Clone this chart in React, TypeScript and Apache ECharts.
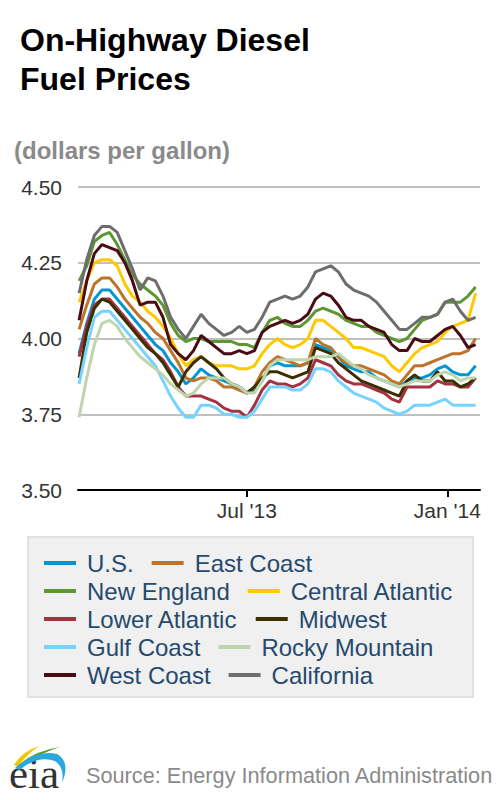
import React, { useEffect, useRef } from "react";
import * as echarts from "echarts";

// ---- data ----
const weekDates = [
  "2013-01-28",
  "2013-02-04", "2013-02-11", "2013-02-18", "2013-02-25",
  "2013-03-04", "2013-03-11", "2013-03-18", "2013-03-25",
  "2013-04-01", "2013-04-08", "2013-04-15", "2013-04-22", "2013-04-29",
  "2013-05-06", "2013-05-13", "2013-05-20", "2013-05-27",
  "2013-06-03", "2013-06-10", "2013-06-17", "2013-06-24",
  "2013-07-01", "2013-07-08", "2013-07-15", "2013-07-22", "2013-07-29",
  "2013-08-05", "2013-08-12", "2013-08-19", "2013-08-26",
  "2013-09-02", "2013-09-09", "2013-09-16", "2013-09-23", "2013-09-30",
  "2013-10-07", "2013-10-14", "2013-10-21", "2013-10-28",
  "2013-11-04", "2013-11-11", "2013-11-18", "2013-11-25",
  "2013-12-02", "2013-12-09", "2013-12-16", "2013-12-23", "2013-12-30",
  "2014-01-06", "2014-01-13", "2014-01-20", "2014-01-27",
];

const usPrices = [3.95, 4.05, 4.13, 4.16, 4.16, 4.13, 4.10, 4.07, 4.04, 4.01, 3.98, 3.96, 3.92, 3.89, 3.85, 3.87, 3.90, 3.88, 3.87, 3.86, 3.85, 3.84, 3.82, 3.83, 3.86, 3.91, 3.92, 3.91, 3.91, 3.91, 3.92, 3.98, 3.97, 3.96, 3.94, 3.91, 3.90, 3.89, 3.89, 3.87, 3.86, 3.85, 3.84, 3.86, 3.87, 3.87, 3.88, 3.90, 3.91, 3.89, 3.88, 3.88, 3.91];
const eastCoastPrices = [4.03, 4.11, 4.18, 4.20, 4.20, 4.17, 4.13, 4.10, 4.07, 4.05, 4.02, 4.00, 3.96, 3.92, 3.87, 3.86, 3.87, 3.87, 3.86, 3.84, 3.84, 3.83, 3.82, 3.84, 3.89, 3.92, 3.94, 3.93, 3.92, 3.91, 3.92, 4.00, 3.98, 3.97, 3.94, 3.92, 3.91, 3.91, 3.90, 3.89, 3.88, 3.86, 3.85, 3.88, 3.91, 3.91, 3.92, 3.93, 3.94, 3.95, 3.95, 3.96, 4.00];
const newEnglandPrices = [4.19, 4.24, 4.32, 4.34, 4.35, 4.31, 4.26, 4.21, 4.18, 4.16, 4.14, 4.11, 4.05, 4.01, 3.99, 4.00, 4.00, 3.99, 3.99, 3.99, 3.99, 3.98, 3.98, 3.97, 4.02, 4.06, 4.07, 4.05, 4.04, 4.04, 4.06, 4.09, 4.10, 4.09, 4.08, 4.06, 4.05, 4.04, 4.04, 4.02, 4.01, 4.00, 3.99, 4.00, 4.03, 4.06, 4.07, 4.08, 4.12, 4.12, 4.12, 4.14, 4.17];
const centralAtlanticPrices = [4.12, 4.19, 4.25, 4.26, 4.26, 4.24, 4.18, 4.14, 4.12, 4.09, 4.07, 4.04, 4.00, 3.95, 3.91, 3.93, 3.94, 3.92, 3.91, 3.91, 3.91, 3.90, 3.90, 3.91, 3.95, 3.98, 4.00, 3.98, 3.97, 3.98, 4.00, 4.06, 4.06, 4.04, 4.02, 4.00, 3.97, 3.97, 3.96, 3.95, 3.94, 3.91, 3.89, 3.92, 3.95, 3.97, 3.98, 3.99, 4.02, 4.04, 4.05, 4.06, 4.15];
const lowerAtlanticPrices = [3.94, 4.04, 4.11, 4.13, 4.13, 4.10, 4.07, 4.04, 4.01, 3.98, 3.95, 3.93, 3.89, 3.84, 3.81, 3.81, 3.81, 3.80, 3.79, 3.77, 3.76, 3.76, 3.74, 3.78, 3.83, 3.86, 3.85, 3.85, 3.84, 3.85, 3.87, 3.93, 3.92, 3.91, 3.88, 3.86, 3.85, 3.85, 3.84, 3.83, 3.82, 3.80, 3.79, 3.84, 3.84, 3.84, 3.84, 3.86, 3.85, 3.85, 3.84, 3.84, 3.87];
const midwestPrices = [3.87, 4.02, 4.10, 4.13, 4.12, 4.09, 4.06, 4.03, 4.00, 3.97, 3.95, 3.92, 3.88, 3.84, 3.89, 3.92, 3.94, 3.92, 3.90, 3.87, 3.85, 3.84, 3.82, 3.84, 3.87, 3.89, 3.89, 3.88, 3.87, 3.88, 3.89, 3.97, 3.96, 3.95, 3.92, 3.90, 3.88, 3.86, 3.85, 3.84, 3.83, 3.82, 3.81, 3.86, 3.88, 3.86, 3.86, 3.89, 3.86, 3.86, 3.84, 3.85, 3.87];
const gulfCoastPrices = [3.85, 3.97, 4.07, 4.09, 4.09, 4.06, 4.03, 4.00, 3.97, 3.94, 3.91, 3.86, 3.81, 3.77, 3.74, 3.74, 3.78, 3.78, 3.77, 3.75, 3.75, 3.74, 3.74, 3.76, 3.80, 3.84, 3.84, 3.84, 3.83, 3.83, 3.85, 3.90, 3.90, 3.89, 3.86, 3.84, 3.82, 3.81, 3.80, 3.79, 3.77, 3.76, 3.75, 3.76, 3.78, 3.78, 3.78, 3.79, 3.80, 3.78, 3.78, 3.78, 3.78];
const rockyMountainPrices = [3.74, 3.87, 3.98, 4.05, 4.06, 4.04, 4.00, 3.97, 3.94, 3.92, 3.90, 3.88, 3.85, 3.83, 3.81, 3.82, 3.85, 3.87, 3.87, 3.87, 3.85, 3.84, 3.82, 3.82, 3.86, 3.91, 3.93, 3.93, 3.93, 3.93, 3.93, 3.94, 3.94, 3.94, 3.95, 3.93, 3.91, 3.90, 3.88, 3.87, 3.86, 3.85, 3.84, 3.85, 3.86, 3.86, 3.86, 3.88, 3.89, 3.88, 3.86, 3.87, 3.87];
const westCoastPrices = [4.06, 4.19, 4.28, 4.31, 4.30, 4.29, 4.25, 4.19, 4.11, 4.12, 4.12, 4.07, 3.98, 3.95, 3.93, 3.96, 4.01, 3.99, 3.97, 3.95, 3.95, 3.96, 3.95, 3.96, 4.02, 4.04, 4.05, 4.06, 4.05, 4.06, 4.08, 4.13, 4.15, 4.14, 4.11, 4.07, 4.06, 4.06, 4.04, 4.03, 4.02, 3.98, 3.96, 3.96, 4.00, 3.99, 3.99, 4.01, 4.03, 4.04, 4.01, 3.97, 3.98];
const californiaPrices = [4.15, 4.26, 4.34, 4.37, 4.37, 4.35, 4.29, 4.23, 4.16, 4.20, 4.19, 4.14, 4.07, 4.03, 4.00, 4.04, 4.08, 4.05, 4.03, 4.01, 4.02, 4.04, 4.02, 4.03, 4.07, 4.12, 4.13, 4.14, 4.13, 4.14, 4.17, 4.22, 4.23, 4.24, 4.22, 4.18, 4.16, 4.15, 4.14, 4.12, 4.09, 4.06, 4.03, 4.03, 4.05, 4.07, 4.07, 4.08, 4.12, 4.13, 4.09, 4.06, 4.07];

const seriesNames = [
  "U.S.", "East Coast", "New England", "Central Atlantic", "Lower Atlantic",
  "Midwest", "Gulf Coast", "Rocky Mountain", "West Coast", "California",
];
const seriesValues = [
  usPrices, eastCoastPrices, newEnglandPrices, centralAtlanticPrices, lowerAtlanticPrices,
  midwestPrices, gulfCoastPrices, rockyMountainPrices, westCoastPrices, californiaPrices,
];
const seriesColors = [
  "#0096d6", "#bd732a", "#5d9732", "#ffc800", "#a33340",
  "#3b2f00", "#76d3ff", "#bfd5ad", "#4a0c14", "#6d6d6d",
];

const xTickDates = ["2013-07-01", "2014-01-01"];
const xTickLabels = ["Jul '13", "Jan '14"];
const xMinDate = "2013-01-27";
const xMaxDate = "2014-01-31";
const yMin = 3.5;
const yMax = 4.5;
const yStep = 0.25;

const FONT = '"Liberation Sans", Arial, Helvetica, sans-serif';

const logoYellow = "M14 765 Q21 752 39 746 Q26 755 18 767 Z";
const logoGreen = "M17 767 Q32 751 60 747 Q37 754 21 769 Z";
const logoBlue = "M15 768 Q36 749 57 754 Q71 762 62 783 Q65 768 55 761 Q38 755 19 770 Z";

try {
  echarts.graphic.registerShape("eiaYellow", echarts.graphic.extendPath(logoYellow, {}));
  echarts.graphic.registerShape("eiaGreen", echarts.graphic.extendPath(logoGreen, {}));
  echarts.graphic.registerShape("eiaBlue", echarts.graphic.extendPath(logoBlue, {}));
} catch (e) {
  // ignore
}

function toTime(s: string): number {
  const [y, m, d] = s.split("-").map(Number);
  return Date.UTC(y, m - 1, d);
}

export default function App() {
  const ref = useRef<HTMLDivElement>(null);

  useEffect(() => {
    document.body.style.margin = "0";
    if (!ref.current) return;
    const chart = echarts.init(ref.current, undefined, { renderer: "svg" });
    const tickTimes = xTickDates.map(toTime);

    const legendRows: string[][] = [];
    for (let i = 0; i < seriesNames.length; i += 2) {
      legendRows.push([seriesNames[i], seriesNames[i + 1]]);
    }

    const option: any = {
      animation: false,
      textStyle: { fontFamily: FONT },
      grid: { left: 78, right: 20, top: 187, bottom: 310 },
      xAxis: {
        type: "value",
        min: toTime(xMinDate),
        max: toTime(xMaxDate),
        axisLine: { show: true, lineStyle: { color: "#000", width: 2 } },
        axisTick: {
          show: true,
          length: 7,
          lineStyle: { color: "#000", width: 2 },
          customValues: tickTimes,
        },
        axisLabel: {
          customValues: tickTimes,
          fontSize: 21,
          color: "#333",
          fontFamily: FONT,
          margin: 10,
          formatter: (v: number) => {
            let best = 0;
            for (let i = 1; i < tickTimes.length; i++) {
              if (Math.abs(tickTimes[i] - v) < Math.abs(tickTimes[best] - v)) best = i;
            }
            return xTickLabels[best];
          },
        },
        splitLine: { show: false },
      },
      yAxis: {
        type: "value",
        min: yMin,
        max: yMax,
        interval: yStep,
        axisLine: { show: false },
        axisTick: { show: false },
        axisLabel: {
          fontSize: 21,
          color: "#333",
          fontFamily: FONT,
          margin: 16,
          formatter: (v: number) => v.toFixed(2),
        },
        splitLine: { lineStyle: { color: "#c0c0c0", width: 2 } },
      },
      legend: legendRows.map((row, r) => ({
        data: row,
        left: 39,
        top: 544 + r * 28,
        orient: "horizontal",
        icon: "rect",
        itemWidth: 32,
        itemHeight: 4,
        itemGap: 18,
        selectedMode: false,
        textStyle: {
          fontSize: 24,
          color: "#264a6e",
          fontFamily: FONT,
          lineHeight: 28,
          padding: [0, 0, 0, 6],
        },
      })),
      graphic: [
        {
          type: "rect",
          z: -1,
          shape: { x: 28, y: 537, width: 445, height: 160 },
          style: { fill: "#f0f0f0", stroke: "#e1e1e1", lineWidth: 2 },
        },
        {
          type: "text",
          x: 20,
          y: 39.5,
          style: {
            text: "On-Highway Diesel",
            fontSize: 32,
            fontWeight: "bold",
            fontFamily: FONT,
            fill: "#000",
            verticalAlign: "middle",
          },
        },
        {
          type: "text",
          x: 20,
          y: 78.5,
          style: {
            text: "Fuel Prices",
            fontSize: 32,
            fontWeight: "bold",
            fontFamily: FONT,
            fill: "#000",
            verticalAlign: "middle",
          },
        },
        {
          type: "text",
          x: 14,
          y: 150,
          style: {
            text: "(dollars per gallon)",
            fontSize: 24,
            fontWeight: "bold",
            fontFamily: FONT,
            fill: "#8a8a8a",
            verticalAlign: "middle",
          },
        },
        {
          type: "text",
          x: 86,
          y: 775,
          style: {
            text: "Source: Energy Information Administration",
            fontSize: 21.7,
            fontFamily: FONT,
            fill: "#8a8a8a",
            verticalAlign: "middle",
          },
        },
        {
          type: "text",
          x: 9,
          y: 773,
          style: {
            text: "eia",
            fontSize: 43,
            fontFamily: '"Liberation Serif", "DejaVu Serif", serif',
            fill: "#333",
            verticalAlign: "middle",
          },
        },
        { type: "eiaYellow", x: 0, y: 0, style: { fill: "#f6c400" } },
        { type: "eiaGreen", x: 0, y: 0, style: { fill: "#5aa332" } },
        { type: "eiaBlue", x: 0, y: 0, style: { fill: "#29a8e0" } },
      ],
      series: seriesNames.map((name, k) => ({
        name,
        type: "line",
        showSymbol: false,
        symbol: "none",
        color: seriesColors[k],
        lineStyle: { color: seriesColors[k], width: 3 },
        emphasis: { disabled: true },
        data: weekDates.map((d, i) => [toTime(d), seriesValues[k][i]]),
      })),
    };

    chart.setOption(option);
    return () => chart.dispose();
  }, []);

  return (
    <div
      ref={ref}
      style={{ position: "absolute", left: 0, top: 0, width: 500, height: 800 }}
    />
  );
}
